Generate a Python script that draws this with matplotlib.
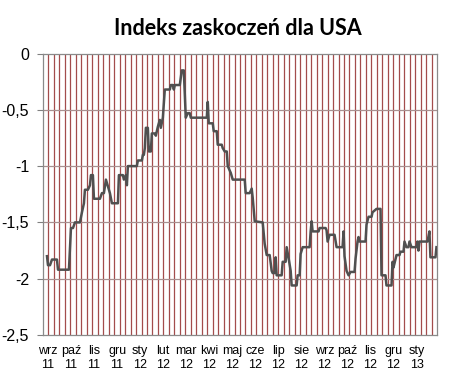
import matplotlib
matplotlib.use("Agg")
import matplotlib.pyplot as plt

# surprise index, x in weeks from start of Sep 2011
weeks = [0.73, 0.91, 1.28, 1.64, 2.55, 2.74, 4.74, 5.11, 5.48, 5.84, 6.75, 7.12, 7.48, 7.66, 8.21,
         8.58, 8.76, 9.12, 9.31, 10.40, 10.77, 11.13, 11.50, 12.23, 12.59, 13.69, 13.87, 14.60,
         14.78, 15.15, 15.33, 15.51, 17.15, 17.34, 18.07, 18.25, 18.43, 18.61, 18.80, 19.16, 19.34,
         19.71, 19.89, 20.44, 20.62, 20.99, 21.35, 21.53, 21.90, 22.26, 23.18, 23.36, 23.72, 23.91,
         24.09, 25.00, 25.36, 25.73, 26.09, 26.46, 26.82, 27.01, 29.93, 30.11, 30.29, 31.02, 31.20,
         31.75, 31.93, 32.66, 32.84, 33.21, 33.58, 33.76, 34.31, 34.67, 36.86, 37.04, 37.77, 38.14,
         38.32, 38.69, 40.15, 40.51, 40.88, 41.42, 41.79, 41.97, 42.34, 42.52, 42.70, 43.61, 43.80,
         44.34, 44.53, 44.89, 45.26, 45.44, 46.35, 46.53, 46.90, 47.08, 47.45, 48.72, 48.91, 49.09,
         49.27, 50.36, 50.54, 51.64, 51.82, 52.01, 52.37, 53.28, 53.65, 54.74, 54.93, 55.10, 55.47,
         55.84, 56.20, 56.93, 57.12, 57.48, 57.66, 57.85, 58.94, 59.12, 59.49, 60.04, 60.22, 60.95,
         61.68, 61.86, 62.59, 62.77, 63.69, 63.87, 64.05, 64.60, 65.15, 65.33, 65.88, 66.06, 66.42,
         66.79, 66.97, 67.34, 68.25, 68.43, 68.61, 68.80, 70.26, 70.62, 70.80, 71.72, 71.90]
values = [-1.80, -1.88, -1.88, -1.83, -1.83, -1.92, -1.92, -1.55, -1.55, -1.50, -1.50, -1.41, -1.33,
          -1.21, -1.21, -1.17, -1.08, -1.08, -1.29, -1.29, -1.24, -1.24, -1.12, -1.24, -1.33, -1.33,
          -1.08, -1.08, -1.12, -1.08, -1.17, -1.00, -1.00, -0.95, -0.95, -0.90, -0.90, -0.84, -0.66,
          -0.66, -0.87, -0.87, -0.71, -0.71, -0.73, -0.65, -0.59, -0.66, -0.57, -0.32, -0.32, -0.28,
          -0.28, -0.32, -0.28, -0.28, -0.15, -0.15, -0.57, -0.53, -0.53, -0.57, -0.57, -0.43, -0.62,
          -0.62, -0.69, -0.69, -0.81, -0.81, -0.84, -0.87, -0.87, -1.00, -1.06, -1.12, -1.12, -1.24,
          -1.24, -1.20, -1.28, -1.49, -1.50, -1.69, -1.79, -1.79, -1.93, -1.95, -1.95, -1.81, -1.97,
          -1.97, -1.85, -1.85, -1.72, -1.82, -1.93, -2.06, -2.06, -1.97, -1.97, -1.78, -1.72, -1.72,
          -1.58, -1.49, -1.58, -1.58, -1.55, -1.55, -1.57, -1.67, -1.61, -1.61, -1.72, -1.72, -1.58,
          -1.80, -1.93, -1.97, -1.94, -1.94, -1.82, -1.67, -1.63, -1.67, -1.67, -1.52, -1.45, -1.45,
          -1.41, -1.38, -1.38, -1.97, -1.97, -2.06, -2.06, -1.85, -1.90, -1.79, -1.79, -1.76, -1.76,
          -1.67, -1.72, -1.72, -1.67, -1.72, -1.72, -1.67, -1.75, -1.67, -1.67, -1.58, -1.81, -1.81,
          -1.72]

months = ["wrz\n11", "paź\n11", "lis\n11", "gru\n11", "sty\n12", "lut\n12", "mar\n12", "kwi\n12",
          "maj\n12", "cze\n12", "lip\n12", "sie\n12", "wrz\n12", "paź\n12", "lis\n12", "gru\n12",
          "sty\n13"]
yticks = [0, -0.5, -1, -1.5, -2, -2.5]
ylabels = ["0", "-0,5", "-1", "-1,5", "-2", "-2,5"]

plt.rcParams['font.family'] = ['Liberation Sans', 'DejaVu Sans']

fig = plt.figure(figsize=(4.68, 3.8), dpi=100)
ax = fig.add_axes([43/468, 45/380, 394/468, 281.5/380])

n_weeks = 72
for k in range(1, n_weeks):
    ax.axvline(k, color="#a34c4c", lw=0.9, zorder=1)
for t in yticks[1:-1]:
    ax.axhline(t, color="#a89090", lw=0.9, zorder=1)

ax.plot(weeks, values, color="#505050", lw=1.8, zorder=3)

ax.set_xlim(0, n_weeks)
ax.set_ylim(-2.5, 0)
ax.set_yticks(yticks)
ax.set_yticklabels(ylabels, fontsize=11.5)
ax.set_xticks([0.91 + 4.21 * i for i in range(len(months))])
ax.set_xticklabels(months, fontsize=9, linespacing=1.2)
ax.tick_params(axis="x", length=0, pad=7)
ax.tick_params(axis="y", length=4, color="#808080", pad=6)

for s in ax.spines.values():
    s.set_color("#8a8a8a")
    s.set_linewidth(0.9)

fig.text(0.508, 0.925, "Indeks zaskoczeń dla USA", ha="center", va="center",
         fontsize=15.5, fontweight="bold", family=["Lato", "DejaVu Sans"])

fig.savefig("out.png", dpi=100)
